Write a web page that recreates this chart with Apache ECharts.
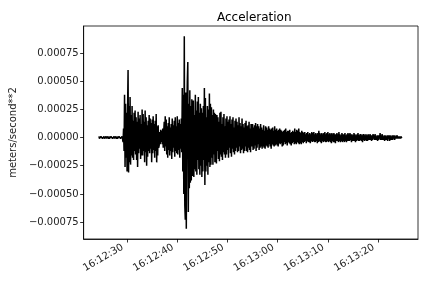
<!DOCTYPE html>
<html>
<head>
<meta charset="utf-8">
<script src="https://cdn.jsdelivr.net/npm/echarts@6/dist/echarts.min.js"></script>
<style>html,body{margin:0;padding:0;background:#fff}#c{width:432px;height:288px}</style>
</head>
<body>
<div id="c"></div>
<script>
// Trace metadata: first sample time (seconds after 16:12:00) and sample spacing (s)
var traceStartSec = 24.4;
var sampleStepSec = 0.1;
// Acceleration samples, in units of 1e-5 m/s^2
var accelScale = 1e-5;
var accel = [
  // 24.4 - 29.1 pre-event noise
  1,-1,0.5,-1,1,-0.5,1,-1,0.5,-1,1,-1,0.5,-0.5,1,-1,1,-0.5,0.5,-1,1,-1,0.5,-1,
  1,-0.5,1,-1,0.5,-1,1,-1,1,-0.5,0.5,-1,1,-1,0.5,-1,1,-0.5,1,-1,0.5,-1,1,-1,
  // 29.2 - 30.5 first arrival
  -4,8,-12,38,-26,30,-18,22,-30,24,60,-31,28,-22,
  // 30.6 - 36.3
  36,-24,20,-16,28,-18,15,-20,22,-12,
  24,-15,18,-20,14,-26,23,-14,17,-10,
  20,-19,12,-16,25,-16,21,-12,14,-22,
  24,-13,18,-25,11,-17,15,-12,20,-14,
  17,-10,13,-22,16,-14,19,-11,12,-18,
  15,-12,21,-22,10,-16,11,-9,
  // 36.4 - 37.3
  -7,5,-6,7,-4,6,-6,8,-9,5,
  // 37.4 - 40.9
  14,-12,19,-8,16,-15,10,-18,13,-11,
  18,-16,9,-12,12,-19,17,-13,11,-9,
  15,-17,18,-12,10,-14,19,-15,13,-11,
  16,-18,12,-10,17,-13,
  // 41.0 - 43.1 main arrival
  44,-30,38,-50,90,-60,-73,40,-81,20,50,67,-66,30,-45,42,-40,28,-38,34,-34,25,
  // 43.2 - 47.7
  33,-35,20,-28,38,-30,24,-33,32,-20,
  36,-28,22,-33,30,-25,26,-35,22,-30,
  28,-20,44,-42,35,-30,18,-25,28,-33,
  25,-22,39,-26,30,-24,27,-18,20,-24,
  25,-15,22,-22,21,-14,
  // 47.8 - 54.7
  -23,20,-12,18,-19,14,-21,22,-15,23,
  -17,12,-20,18,-13,21,-15,10,-18,17,
  -15,19,-11,14,-18,16,-9,19,-14,12,
  -17,16,-10,18,-13,9,-15,15,-12,17,
  -9,14,-13,11,-12,18,-8,13,-14,10,
  -11,17,-10,12,-14,9,-12,13,-8,15,
  -12,10,-13,11,-9,14,-11,8,-13,12,
  // 54.8 - 60.3
  13,-8,12,-11,9,-10,11,-7,13,-12,
  10,-9,12,-6,10,-11,8,-9,12,-8,
  9,-10,7,-8,11,-9,6,-10,10,-7,
  9,-8,7,-9,10,-6,8,-8,7,-10,
  8,-6,9,-7,6,-8,10,-7,7,-6,
  8,-7,6,-8,7,-5,
  // 60.4 - 65.1
  8,-6,7,-5,6,-8,5,-7,6,-4,
  7,-6,8,-5,5,-7,6,-4,6,-5,
  7,-6,4,-7,5,-5,6,-4,5,-6,
  8,-5,5,-6,7,-4,6,-5,8,-6,
  5,-5,4,-6,6,-4,5,-5,
  // 65.2 - 71.1
  4,-4,5,-3,3,-5,4,-3,5,-4,
  3,-4,4,-5,3,-3,5,-4,4,-3,
  5,-4,3,-4,4,-3,3,-5,4,-4,
  6,-3,4,-4,3,-5,4,-3,3,-4,
  4,-3,5,-4,3,-4,4,-3,5,-4,
  3,-3,4,-4,3,-5,4,-3,3,-4,
  // 71.2 - 78.1
  4,-4,3,-5,3,-3,4,-3,3,-4,
  5,-3,3,-4,2,-3,4,-4,3,-3,
  3,-4,4,-3,2,-4,3,-3,4,-3,
  3,-3,4,-2,3,-4,3,-3,2,-3,
  4,-3,3,-4,2,-3,3,-2,4,-3,
  2,-3,3,-2,3,-3,2,-4,3,-2,
  3,-3,2,-2,3,-3,2,-3,3,-2,
  // 78.2 - 84.8
  2,-2,3,-2,2,-3,2,-2,3,-1,
  2,-2,3,-2,1,-2,2,-3,2,-2,
  2,-1,4,-2,2,-2,3,-2,1,-2,
  2,-3,2,-2,1,-2,2,-3,2,-1,
  2,-3,2,-2,1,-2,2,-2,2,-1,
  2,-2,1,-1,2,-1,2,-1,1,-1,
  1,-1,1,-1,1,-0.5,0
];
var xTickSeconds = [30, 40, 50, 60, 70, 80];
var yTickValues = [-0.00075, -0.0005, -0.00025, 0, 0.00025, 0.0005, 0.00075];

var seriesData = accel.map(function (v, i) {
  return [traceStartSec + i * sampleStepSec, v * accelScale];
});

function fmtTime(sec) {
  var total = 16 * 3600 + 12 * 60 + Math.round(sec);
  var h = Math.floor(total / 3600), m = Math.floor((total % 3600) / 60), s = total % 60;
  return h + ':' + (m < 10 ? '0' : '') + m + ':' + (s < 10 ? '0' : '') + s;
}
function fmtY(v) {
  var t = Math.abs(v) < 1e-12 ? '0.00000' : v.toFixed(5);
  return t.replace('-', '\u2212');
}

var font = 'DejaVu Sans';
var chart = echarts.init(document.getElementById('c'), null, {renderer: 'canvas'});
chart.setOption({
  animation: false,
  backgroundColor: '#fff',
  title: {
    text: 'Acceleration', left: 212, top: 7,
    textStyle: {fontFamily: font, fontSize: 12, fontWeight: 'normal', color: '#000'}
  },
  grid: {left: 81, right: 14, top: 26, bottom: 49, show: true, borderColor: '#000', borderWidth: 0.8, backgroundColor: 'transparent'},
  xAxis: {
    type: 'value', min: 21.35, max: 87.95,
    axisLine: {show: true, onZero: false, lineStyle: {color: '#000', width: 0.8}},
    axisTick: {show: true, length: 3.5, lineStyle: {color: '#000', width: 0.8}, customValues: xTickSeconds},
    axisLabel: {show: true, rotate: 30, margin: 5, padding: [0, 5, 0, 0], fontFamily: font, fontSize: 10, color: '#222',
      customValues: xTickSeconds, formatter: function (v) { return fmtTime(v); }},
    splitLine: {show: false}
  },
  yAxis: {
    type: 'value', min: -0.0009, max: 0.00099,
    name: 'meters/second**2', nameLocation: 'middle', nameGap: 58,
    nameTextStyle: {fontFamily: font, fontSize: 10, color: '#222'},
    axisLine: {show: true, onZero: false, lineStyle: {color: '#000', width: 0.8}},
    axisTick: {show: true, length: 3.5, lineStyle: {color: '#000', width: 0.8}, customValues: yTickValues},
    axisLabel: {show: true, margin: 5, fontFamily: font, fontSize: 10, color: '#222',
      customValues: yTickValues, formatter: function (v) { return fmtY(v); }},
    splitLine: {show: false}
  },
  series: [{
    type: 'line', data: seriesData, showSymbol: false, symbol: 'none',
    lineStyle: {color: '#000', width: 1.5}, silent: true
  }]
});
</script>
</body>
</html>
